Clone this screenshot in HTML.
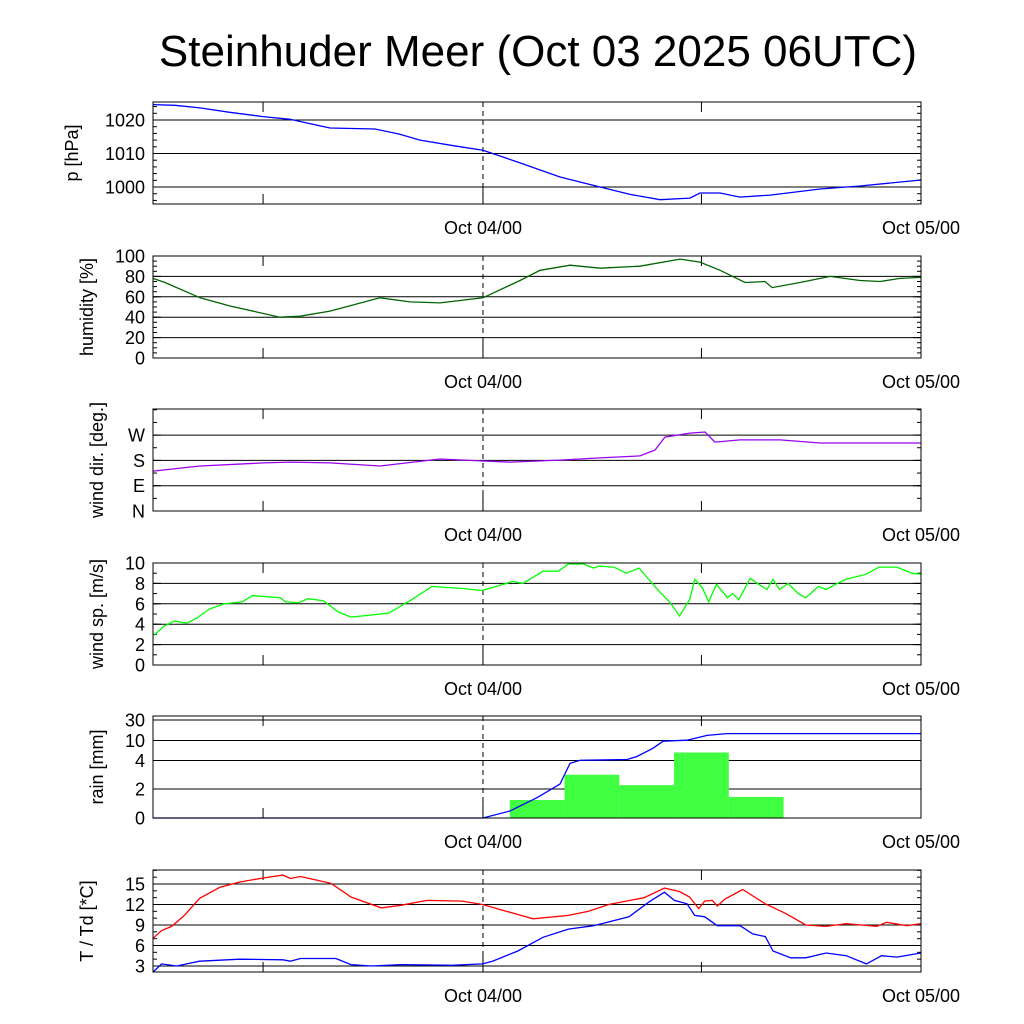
<!DOCTYPE html>
<html><head><meta charset="utf-8">
<style>
body{margin:0;background:#fff;}
svg{display:block;font-family:"Liberation Sans",sans-serif;}
</style></head>
<body>
<svg id="c" width="1024" height="1024" viewBox="0 0 1024 1024">
<text x="538" y="66" font-size="44" text-anchor="middle">Steinhuder Meer (Oct 03 2025 06UTC)</text>
</svg>
<script>
// time axis: hours since Oct 03 06UTC
const tMax = 42.08;
const xTickHours = [18.08, 42.08];
const xTickLabels = ["Oct 04/00", "Oct 05/00"];
const xMinorHours = [6.03, 30.05];

const pTime = [0,1.2,2.58,4.2,6.03,7.51,8.5,9.7,12.16,13.5,14.63,16.5,18.08,20.11,22.3,24.49,26.14,27.78,29.42,29.97,31.07,32.16,33.81,36.55,38.74,42.08];
const pVal = [1024.6,1024.4,1023.6,1022.3,1021.0,1020.2,1019.0,1017.6,1017.3,1015.8,1014.0,1012.3,1011.0,1007.2,1003.0,1000.0,997.8,996.2,996.7,998.2,998.2,997.0,997.6,999.4,1000.3,1002.1];

const hTime = [0,0.66,2.58,4.22,6.96,8.05,9.7,12.44,14.08,15.73,18.08,20.11,21.21,22.85,24.49,26.68,28.88,29.97,31.07,32.44,33.53,33.92,35.45,37.1,38.74,39.84,40.93,42.08];
const hVal = [78,74,59,51,40,41,46,59,55,54,59,76,86,91,88,90,97,94,86,74,75,69,74,80,76,75,78,79];

const dTime = [0,2.58,6.03,7.51,9.7,12.44,15.73,18.08,19.56,22.3,24.49,26.68,27.51,28.05,29.42,30.25,30.79,32.16,34.36,36.55,42.08];
const dVal = [142,160,171,174,171,160,185,178,174,181,189,196,217,263,277,281,245,253,253,242,242];

const sTime = [0.06,0.6,1.16,1.85,2.4,3.1,3.93,4.9,5.45,6.98,7.25,7.95,8.5,9.33,10.16,10.85,11.96,12.93,14.17,15.28,16.94,18.05,19.71,20.27,21.37,22.2,22.76,23.59,24.14,24.42,25.25,25.94,26.63,27.74,28.3,28.85,29.4,29.68,30.09,30.45,30.87,31.48,31.76,32.09,32.72,33.28,33.64,33.97,34.33,34.8,35.35,35.77,36.46,36.88,37.38,37.98,39.09,39.78,40.75,41.58,42.08];
const sVal = [2.9,3.8,4.3,4.1,4.6,5.5,6.0,6.2,6.8,6.6,6.2,6.1,6.5,6.3,5.2,4.7,4.9,5.1,6.4,7.7,7.5,7.3,8.2,8.0,9.2,9.2,9.9,9.9,9.5,9.7,9.6,9.0,9.5,7.2,6.2,4.8,6.4,8.4,7.6,6.2,7.9,6.6,7.0,6.4,8.5,7.8,7.4,8.4,7.4,8.0,7.0,6.6,7.7,7.4,7.9,8.4,8.9,9.6,9.6,9.0,8.9];

const rainStart = [19.55,22.55,25.55,28.55,31.55];
const rainVal = [1.24,3.0,2.27,6.4,1.45];
const rainWidth = 3;
const cumTime = [0,18.08,19.56,21.04,22.3,22.85,23.4,25.97,26.52,27.4,27.95,29.26,30.36,31.45,42.08];
const cumVal = [0,0,0.48,1.4,2.35,3.8,4.05,4.3,5.2,7.7,9.8,10.3,15,16.7,16.7];

const tTime = [0,0.47,1.02,1.72,2.55,3.65,4.76,5.87,7.12,7.53,8.08,8.91,9.75,10.85,12.51,13.62,15.0,16.94,18.05,20.82,22.76,23.86,24.97,26.91,28.02,28.85,29.4,29.9,30.23,30.65,30.92,31.34,32.31,33.55,34.66,35.77,36.88,37.98,39.65,40.2,41.31,42.08];
const tVal = [7.05,8.2,8.8,10.4,12.9,14.5,15.3,15.8,16.3,15.8,16.1,15.6,15.1,13.1,11.5,11.9,12.6,12.5,12.0,9.9,10.4,11.0,12.0,13.0,14.4,13.9,13.1,11.4,12.5,12.6,11.8,12.8,14.2,12.1,10.7,9.0,8.8,9.2,8.8,9.4,8.9,9.2];
const tdTime = [0,0.47,1.3,2.55,4.76,7.12,7.53,8.08,10.02,10.85,11.96,13.62,16.39,18.05,18.6,19.99,21.37,22.76,24.14,26.08,27.19,28.02,28.57,29.26,29.68,30.23,30.92,32.17,32.86,33.55,33.97,34.94,35.77,36.88,37.98,39.09,39.92,40.75,42.08];
const tdVal = [2.1,3.3,3.0,3.7,4.0,3.9,3.7,4.1,4.1,3.2,3.0,3.2,3.1,3.3,3.7,5.2,7.2,8.4,8.9,10.2,12.4,13.8,12.6,12.1,10.4,10.2,8.9,8.9,7.7,7.3,5.2,4.2,4.2,4.9,4.5,3.3,4.5,4.3,4.9];

const pTicks = [1000,1010,1020];
const hTicks = [0,20,40,60,80,100];
const dTicks = [0,90,180,270];
const dTickLabels = ["N","E","S","W"];
const sTicks = [0,2,4,6,8,10];
const rTicks = [0,2,4,10,30];
const tTicks = [3,6,9,12,15];

const NS = "http://www.w3.org/2000/svg";
const svg = document.getElementById('c');
const L = 153, R = 921;
function X(h){ return L + h/tMax*(R-L); }
function mk(tag, attrs, parent){
  const e = document.createElementNS(NS, tag);
  for (const k in attrs) e.setAttribute(k, attrs[k]);
  (parent||svg).appendChild(e);
  return e;
}
function linY(top,bot,vmin,vmax){ return v => bot - (v-vmin)/(vmax-vmin)*(bot-top); }
const rPix = [0,29,57.5,77.5,98];
function rainY(v){
  const top=716, bot=818;
  for (let i=0;i<rTicks.length-1;i++){
    if (v<=rTicks[i+1]) return bot - (rPix[i] + (v-rTicks[i])/(rTicks[i+1]-rTicks[i])*(rPix[i+1]-rPix[i]));
  }
  return bot - 98 - (v-30)/20*20.5;
}

function panel(name, top, bot, yf, ticks, labels, title, minorStep, vmin, vmax, titleX){
  const g = mk('g', {});
  
  
  ticks.forEach((v,i)=>{
    const y = yf(v);
    if (y>top+1 && y<bot-1){
      const gl = mk('line',{x1:L,x2:R,y1:y,y2:y,stroke:'#000','stroke-width':1},g);
      
      
    }
    mk('line',{x1:L,x2:L+8,y1:y,y2:y,stroke:'#000'},g);
    mk('line',{x1:R-8,x2:R,y1:y,y2:y,stroke:'#000'},g);
    const t = mk('text',{x:145,y:y+6.5,'font-size':18,'text-anchor':'end'},g);
    
    
    t.textContent = labels ? labels[i] : v;
  });
  if (minorStep){
    for (let v=Math.ceil(vmin/minorStep)*minorStep; v<=vmax; v+=minorStep){
      const y = yf(v);
      if (y<top || y>bot) continue;
      mk('line',{x1:L,x2:L+4,y1:y,y2:y,stroke:'#000'},g);
      mk('line',{x1:R-4,x2:R,y1:y,y2:y,stroke:'#000'},g);
    }
  }
  const dl = mk('line',{x1:X(18.08),x2:X(18.08),y1:top,y2:bot,stroke:'#000','stroke-dasharray':'5,4'},g);
  
  
  xMinorHours.forEach(h=>{ mk('line',{x1:X(h),x2:X(h),y1:bot-10,y2:bot,stroke:'#000'},g); mk('line',{x1:X(h),x2:X(h),y1:top,y2:top+10,stroke:'#000'},g); });
  xTickHours.forEach((h,i)=>{
    mk('line',{x1:X(h),x2:X(h),y1:bot-18,y2:bot,stroke:'#000'},g);
    const t = mk('text',{x:X(h),y:bot+30,'font-size':18,'text-anchor':'middle'},g);
    
    
    t.textContent = xTickLabels[i];
  });
  const yt = mk('text',{x:0,y:0,'font-size':18,'text-anchor':'middle',transform:`translate(${titleX},${(top+bot)/2}) rotate(-90)`},g);
  
  
  yt.textContent = title;
  return g;
}
function frame(g, top, bot){
  mk('rect',{x:L,y:top,width:R-L,height:bot-top,fill:'none',stroke:'#000','stroke-width':1},g);
}
function line(g, times, vals, yf, color, name){
  const pts = times.map((t,i)=>X(t).toFixed(1)+','+yf(vals[i]).toFixed(1)).join(' ');
  const p = mk('polyline',{points:pts,fill:'none',stroke:color,'stroke-width':1.3},g);
  
  
}

const pY = linY(102,204,994.93,1025.37);
let g = panel('pressure',102,204,pY,pTicks,null,'p [hPa]',2,994,1026,78);
line(g,pTime,pVal,pY,'#0000ff','pressure-line'); frame(g,102,204);

const hY = linY(256,358,0,100);
g = panel('humidity',256,358,hY,hTicks,null,'humidity [%]',5,0,100,93);
line(g,hTime,hVal,hY,'#006400','humidity-line'); frame(g,256,358);

const dY = linY(409,511,0,362.8);
g = panel('wind-direction',409,511,dY,dTicks,dTickLabels,'wind dir. [deg.]',45,0,360,103);
line(g,dTime,dVal,dY,'#9900ee','wind-direction-line'); frame(g,409,511);

const sY = linY(563,665,0,10);
g = panel('wind-speed',563,665,sY,sTicks,null,'wind sp. [m/s]',1,0,10,103);
line(g,sTime,sVal,sY,'#00ff00','wind-speed-line'); frame(g,563,665);

g = panel('rain',716,818,rainY,rTicks,null,'rain [mm]',0,0,30,103);
rainStart.forEach((h,i)=>{
  const y = rainY(rainVal[i]);
  const b = mk('rect',{x:X(h),y:y,width:X(h+rainWidth)-X(h),height:818-y,fill:'#40ff40'},g);
  
  
});
line(g,cumTime,cumVal,rainY,'#0000ff','cumulative-rain-line'); frame(g,716,818);

const tY = linY(870,972,2.12,17.05);
g = panel('temperature',870,972,tY,tTicks,null,'T / Td [*C]',1,3,17,93);
line(g,tTime,tVal,tY,'#ff0000','temperature-line');
line(g,tdTime,tdVal,tY,'#0000ff','dewpoint-line'); frame(g,870,972);
</script>
</body></html>
